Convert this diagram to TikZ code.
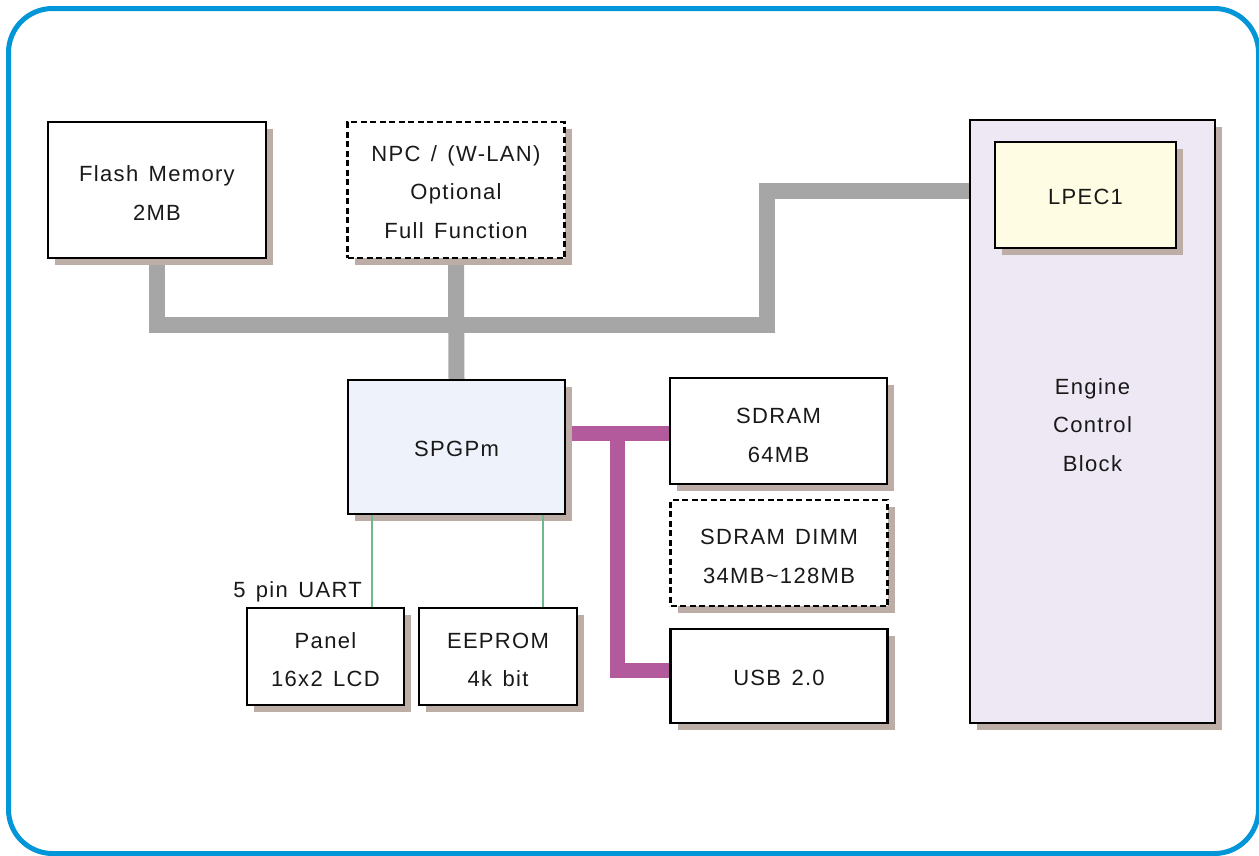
\documentclass[tikz,border=0pt]{standalone}
\usepackage{fontspec}
\setmainfont{Liberation Sans}[LetterSpace=6,WordSpace=1.4]
\usetikzlibrary{shadows}
\pgfdeclarelayer{bg}
\pgfsetlayers{bg,main}
\definecolor{framec}{RGB}{0,150,215}
\definecolor{shadowc}{RGB}{188,174,166}
\definecolor{busgray}{RGB}{166,166,166}
\definecolor{busmag}{RGB}{178,90,155}
\definecolor{greenc}{RGB}{110,185,140}
\definecolor{spgfill}{RGB}{238,242,250}
\definecolor{engfill}{RGB}{238,232,244}
\definecolor{lpecfill}{RGB}{254,252,226}
\begin{document}
\begin{tikzpicture}[x=1pt,y=-1pt,
  box/.style={draw=black, line width=2.2pt, fill=white, align=center, inner sep=0pt,
    font=\fontsize{22}{38.5}\selectfont, text=black!90,
    drop shadow={shadow xshift=7pt,shadow yshift=-7pt,fill=shadowc,opacity=1}},
  dbox/.style={box, dash pattern=on 6pt off 3.5pt},
  graybus/.style={line width=16pt, draw=busgray, line join=miter},
  magbus/.style={line width=15pt, draw=busmag, line join=miter},
  greenl/.style={line width=1.6pt, draw=greenc},
  lbl/.style={font=\fontsize{22}{25}\selectfont, text=black!90, inner sep=0pt}]
\useasboundingbox (0,0) rectangle (1259,855);
\draw[framec, line width=5pt, rounded corners=44pt] (8.5,8.5) rectangle (1258.5,853.5);

\node[box, minimum width=218pt, minimum height=136pt] (flash) at (157,190) {\rule{0pt}{22pt}Flash Memory\\2MB};
\node[dbox, minimum width=217pt, minimum height=136pt] (npc) at (456,190) {\rule{0pt}{20pt}NPC / (W-LAN)\\Optional\\Full Function};
\node[box, fill=spgfill, minimum width=217pt, minimum height=134pt] (spg) at (456.5,447) {\rule{0pt}{20pt}SPGPm};
\node[box, minimum width=217pt, minimum height=106pt] (sdram) at (778.5,431) {\rule{0pt}{24pt}SDRAM\\64MB};
\node[dbox, minimum width=217pt, minimum height=106pt] (dimm) at (779,553) {\rule{0pt}{22pt}SDRAM DIMM\\34MB\textasciitilde128MB};
\node[box, minimum width=217pt, minimum height=94pt] (usb) at (779,676) {\rule{0pt}{20pt}USB 2.0};
\node[box, minimum width=157pt, minimum height=97pt] (panel) at (325.5,656.5) {\rule{0pt}{22pt}Panel\\16x2 LCD};
\node[box, minimum width=158pt, minimum height=97pt] (eeprom) at (498,656.5) {\rule{0pt}{22pt}EEPROM\\4k bit};
\node[box, fill=engfill, minimum width=245pt, minimum height=603pt] (engine) at (1092.5,421.5) {\rule{0pt}{23pt}Engine\\Control\\Block};
\node[box, fill=lpecfill, minimum width=181pt, minimum height=106pt] (lpec) at (1085.5,195) {\rule{0pt}{20pt}LPEC1};
\node[lbl, anchor=east] (uart) at (362,592) {5 pin UART};

\coordinate (gj) at (767,325);
\coordinate (eport) at (970,191);
\coordinate (mj) at (617,433);
\coordinate (mu) at (617,670);

\begin{pgfonlayer}{bg}
\draw[graybus] (flash.south) |- (gj) |- (eport);
\draw[graybus] (npc.south) -- (spg.north);
\draw[magbus] (spg.east |- mj) -- (sdram.west |- mj);
\draw[magbus] (mj) -- (mu) -- (usb.west |- mu);
\end{pgfonlayer}
\draw[greenl] ([xshift=25pt]spg.south west) -- ([xshift=25pt]spg.south west |- panel.north);
\draw[greenl] ([xshift=-23pt]spg.south east) -- ([xshift=-23pt]spg.south east |- eeprom.north);
\end{tikzpicture}
\end{document}
